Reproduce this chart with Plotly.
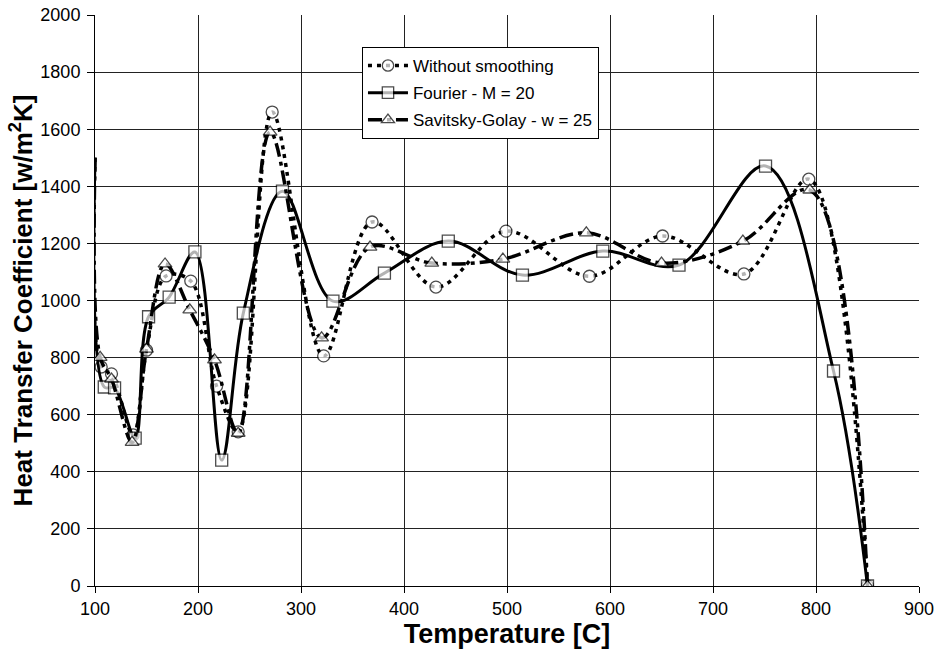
import plotly.graph_objects as go

# Without smoothing (circles)
raw_t = [100, 106, 116, 137, 150, 169, 193, 218, 239, 272, 322, 369, 431, 499, 580, 651, 730, 793, 850]
raw_h = [1500, 767, 743, 529, 826, 1086, 1068, 700, 540, 1660, 806, 1275, 1047, 1243, 1085, 1226, 1093, 1425, 0]

# Fourier - M = 20 (squares)
fou_t = [100, 109, 119, 139, 152, 172, 197, 223, 244, 282, 331, 381, 443, 515, 593, 667, 751, 817, 850]
fou_h = [1500, 697, 694, 518, 943, 1012, 1170, 441, 956, 1383, 998, 1096, 1208, 1089, 1173, 1124, 1471, 753, 0]

# Savitsky-Golay - w = 25 (triangles)
sg_t = [100, 105, 116, 136, 150, 168, 192, 216, 239, 270, 320, 367, 427, 496, 577, 650, 729, 794, 850]
sg_h = [1500, 801, 725, 503, 830, 1128, 967, 792, 535, 1590, 869, 1187, 1131, 1145, 1237, 1131, 1208, 1387, 0]

x_ticks = [100, 200, 300, 400, 500, 600, 700, 800, 900]
y_ticks = [0, 200, 400, 600, 800, 1000, 1200, 1400, 1600, 1800, 2000]

FONT = "Liberation Sans, Arial, sans-serif"


def sizes(n, s):
    return [0] + [s] * (n - 1)


fig = go.Figure()
fig.add_trace(go.Scatter(
    x=raw_t, y=raw_h, name="Without smoothing", mode="lines+markers", legendgroup="a",
    line=dict(color="black", width=3.5, dash="4px,5px", shape="spline", smoothing=1),
    marker=dict(symbol="circle", size=sizes(len(raw_t), 12), color="white",
                line=dict(color="black", width=1.3)),
))
fig.add_trace(go.Scatter(
    x=fou_t, y=fou_h, name="Fourier - M = 20", mode="lines+markers", legendgroup="b",
    line=dict(color="black", width=3, shape="spline", smoothing=1),
    marker=dict(symbol="square", size=sizes(len(fou_t), 12), color="white",
                line=dict(color="black", width=1.3)),
))
fig.add_trace(go.Scatter(
    x=sg_t, y=sg_h, name="Savitsky-Golay - w = 25", mode="lines+markers", legendgroup="c",
    line=dict(color="black", width=3.5, dash="14px,5px,4px,5px", shape="spline", smoothing=1),
    marker=dict(symbol="triangle-up", size=sizes(len(sg_t), 12), color="white",
                line=dict(color="black", width=1.3)),
))

fig.update_layout(
    width=935, height=655,
    margin=dict(l=95, r=16, t=15, b=69, autoexpand=False),
    paper_bgcolor="white", plot_bgcolor="white",
    font=dict(family=FONT, color="black", size=18),
    showlegend=True,
    legend=dict(
        x=0.324, y=0.944, xanchor="left", yanchor="top",
        bgcolor="white", bordercolor="black", borderwidth=1,
        font=dict(family=FONT, size=17, color="black"),
        itemwidth=40, tracegroupgap=2,
    ),
    xaxis=dict(
        range=[100, 900], tickvals=x_ticks, ticktext=[str(v) for v in x_ticks],
        showgrid=True, gridcolor="#222222", gridwidth=1,
        showline=True, linecolor="black", linewidth=1,
        ticks="outside", ticklen=6, tickcolor="black",
        zeroline=False, automargin=False,
        title=dict(text="<b>Temperature [C]</b>", font=dict(family=FONT, size=27), standoff=0),
        tickfont=dict(family=FONT, size=18),
    ),
    yaxis=dict(
        range=[0, 2000], tickvals=y_ticks, ticktext=[str(v) for v in y_ticks],
        showgrid=True, gridcolor="#222222", gridwidth=1,
        showline=True, linecolor="black", linewidth=1,
        ticks="outside", ticklen=7, tickcolor="black", ticklabelstandoff=3,
        zeroline=False, automargin=False,
        title=dict(text="<b>Heat Transfer Coefficient [w/m<sup>2</sup>K]</b>",
                   font=dict(family=FONT, size=26), standoff=0),
        tickfont=dict(family=FONT, size=18),
    ),
)

fig.write_html("out.html", config={"displayModeBar": False},
               post_script="document.body.style.margin='0';")
